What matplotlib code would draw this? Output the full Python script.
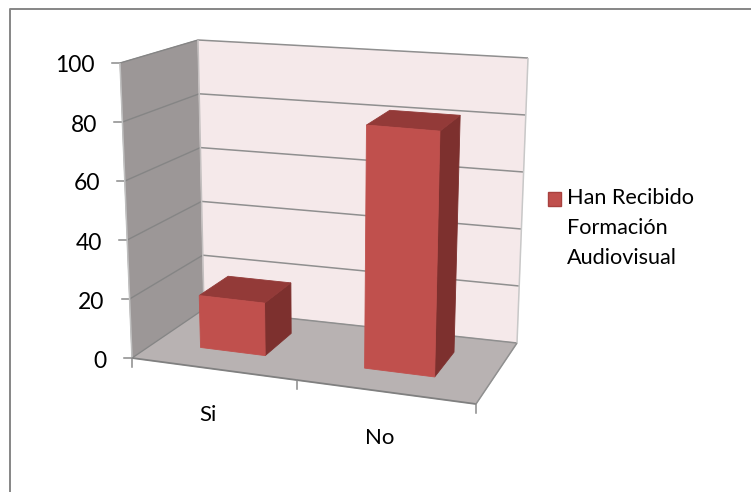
import numpy as np
import matplotlib
matplotlib.use('Agg')
import matplotlib.pyplot as plt
from matplotlib.patches import Polygon, Rectangle

plt.rcParams['font.family'] = ['Lato', 'DejaVu Sans']

categories = ['Si', 'No']
values = [18, 82]
value_ticks = [0, 20, 40, 60, 80, 100]
series_name = ['Han Recibido', 'Formación', 'Audiovisual']

# corners of the 3d box, (x, y) on the canvas, keys are (right, back, top)
corners = {
    (0, 0, 0): (132, 358), (1, 0, 0): (476, 404),
    (0, 1, 0): (204, 309), (1, 1, 0): (517, 343),
    (0, 0, 1): (120, 63), (1, 0, 1): (485, 93),
    (0, 1, 1): (198, 40), (1, 1, 1): (528, 58),
}
vmax = 100.0


def project(u, d, v):
    # u along the categories, d into the depth, v up the value axis
    u = u - 0.08 * u * (1 - u)  # a bit of perspective
    v = v / vmax
    p = np.zeros(2)
    for (a, b, c), xy in corners.items():
        w = (u if a else 1 - u) * (d if b else 1 - d) * (v if c else 1 - v)
        p += w * np.array(xy)
    return p


def face(ax, pts, color, z=2):
    ax.add_patch(Polygon([project(*p) for p in pts], closed=True, facecolor=color,
                         edgecolor=color, linewidth=0.6, zorder=z))


def seg(ax, a, b, color='#8a8a8a', lw=1.1, z=1.5):
    pa, pb = project(*a), project(*b)
    ax.plot([pa[0], pb[0]], [pa[1], pb[1]], color=color, lw=lw, zorder=z,
            solid_capstyle='butt')


fig = plt.figure(figsize=(7.51, 4.92), dpi=100)
ax = fig.add_axes([0, 0, 1, 1])
ax.set_xlim(0, 751)
ax.set_ylim(492, 0)
ax.axis('off')

# frame, only top and left reach into the canvas
ax.plot([9.5, 9.5, 751], [492, 8.5, 8.5], color='#868686', lw=1.4, zorder=0)

# walls and floor
face(ax, [(0, 0, 0), (0, 1, 0), (0, 1, vmax), (0, 0, vmax)], '#9c9797', z=1)
face(ax, [(0, 1, 0), (1, 1, 0), (1, 1, vmax), (0, 1, vmax)], '#f5e9ea', z=1)
face(ax, [(0, 0, 0), (1, 0, 0), (1, 1, 0), (0, 1, 0)], '#b8b2b2', z=1)

# gridlines on both walls, ticks and value labels
for t in value_ticks:
    seg(ax, (0, 0, t), (0, 1, t), color='#858585', lw=1.0)
    seg(ax, (0, 1, t), (1, 1, t), color='#8f8f8f')
    x, y = project(0, 0, t)
    ax.plot([x - 8, x], [y, y], color='#8a8a8a', lw=1.1, zorder=1.5)
    ax.text(x - 25, y + 3, str(t), ha='right', va='center', fontsize=16.5, color='black')

seg(ax, (1, 1, 0), (1, 1, vmax), color='#c8c8c8')
seg(ax, (0, 1, 0), (0, 1, vmax), color='#c4c0c0')
seg(ax, (0, 0, 0), (0, 0, vmax), color='#c0c0c0')
seg(ax, (0, 0, 0), (1, 0, 0), color='#808080', lw=1.3)
seg(ax, (1, 0, 0), (1, 1, 0), color='#909090')

# category ticks
for u in [0, 0.5, 1]:
    x, y = project(u, 0, 0)
    ax.plot([x, x], [y, y + 9], color='#8a8a8a', lw=1.1, zorder=1.5)

# bars
half = 0.101
d0, d1 = 0.33, 0.75
for i, val in enumerate(values):
    c = 0.245 + 0.5 * i
    l, r = c - half, c + half
    face(ax, [(r, d0, 0), (r, d1, 0), (r, d1, val), (r, d0, val)], '#7d302e', z=3)
    face(ax, [(l, d0, val), (r, d0, val), (r, d1, val), (l, d1, val)], '#933a38', z=3)
    face(ax, [(l, d0, 0), (r, d0, 0), (r, d0, val), (l, d0, val)], '#c0504d', z=4)
    x, y = project(c, 0, 0)
    ax.text(x - 3, y + 46, categories[i], ha='center', va='center', fontsize=16, color='black')

# legend
ax.add_patch(Rectangle((547.5, 191.5), 13.5, 14, facecolor='#c0504d', edgecolor='#a8413e', lw=1, zorder=2))
for i, line in enumerate(series_name):
    ax.text(567, 198 + 30 * i, line, ha='left', va='center', fontsize=15.6, color='black')

fig.savefig('out.png', dpi=100)
